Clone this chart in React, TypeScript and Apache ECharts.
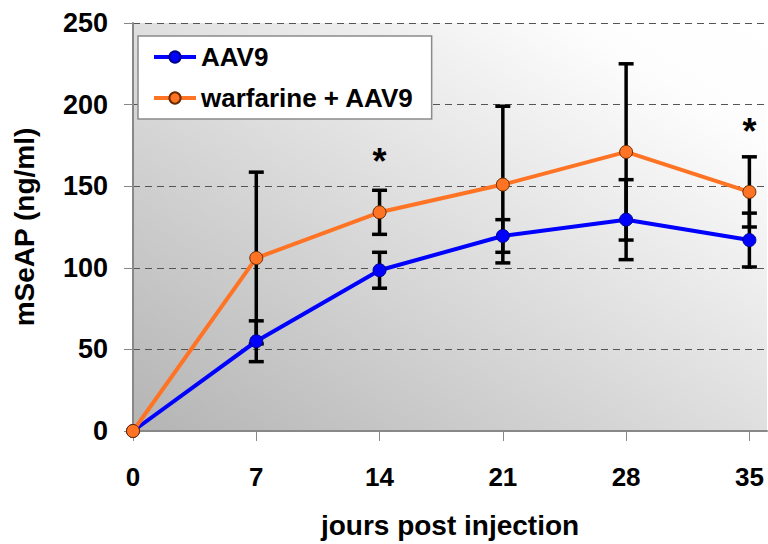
import React, { useEffect, useRef } from "react";
import * as echarts from "echarts";

const days = [0, 7, 14, 21, 28, 35];
const aav9Mean = [0, 55, 98.5, 119.5, 129.5, 117];
const aav9Err = [0, 12.5, 11, 10, 24.5, 16.5];
const warfMean = [0, 106, 134, 151, 171, 146.5];
const warfErr = [0, 52.6, 13.5, 48, 54, 21.5];
const starDays = [14, 35];
const starValues = [165, 183.5];
const xTicks = [0, 7, 14, 21, 28, 35];
const seriesNames = ["AAV9", "warfarine + AAV9"];

const FONT = "'Liberation Sans', Arial, sans-serif";

export default function App() {
  const ref = useRef<HTMLDivElement>(null);
  useEffect(() => {
    if (!ref.current) return;
    const chart = echarts.init(ref.current, null, { renderer: "svg" });
    const pts = (m: number[]) => days.map((d, i) => [d, m[i]]);
    const errData = (m: number[], e: number[]) =>
      days.map((d, i) => [d, m[i], e[i]]).filter((r) => r[2] > 0);
    const errSeries = (m: number[], e: number[]) => ({
      type: "custom",
      z: 1,
      silent: true,
      data: errData(m, e),
      renderItem: (_p: any, api: any) => {
        const x = api.value(0);
        const mean = api.value(1);
        const err = api.value(2);
        const top = api.coord([x, mean + err]);
        const bot = api.coord([x, mean - err]);
        const hw = 7.5;
        const style = { stroke: "#000", lineWidth: 3.5 };
        return {
          type: "group",
          children: [
            { type: "line", shape: { x1: top[0], y1: top[1], x2: bot[0], y2: bot[1] }, style },
            { type: "line", shape: { x1: top[0] - hw, y1: top[1], x2: top[0] + hw, y2: top[1] }, style },
            { type: "line", shape: { x1: bot[0] - hw, y1: bot[1], x2: bot[0] + hw, y2: bot[1] }, style },
          ],
        };
      },
    });
    chart.setOption({
      animation: false,
      grid: {
        left: 133,
        top: 23,
        right: 1,
        bottom: 111,
        show: true,
        borderWidth: 0,
        backgroundColor: new echarts.graphic.LinearGradient(0, 1, 1, 0, [
          { offset: 0, color: "#b4b4b4" },
          { offset: 0.85, color: "#fdfdfd" },
          { offset: 1, color: "#ffffff" },
        ]),
      },
      legend: {
        orient: "vertical",
        left: 138,
        top: 36,
        data: seriesNames,
        backgroundColor: "#ffffff",
        borderColor: "#8a8a8a",
        borderWidth: 1.5,
        borderRadius: 0,
        padding: [8, 18, 8, 14],
        itemWidth: 42,
        itemHeight: 14,
        itemGap: 15,
        lineStyle: { width: 4 },
        textStyle: { fontFamily: FONT, fontWeight: "bold", fontSize: 26, color: "#000" },
      },
      xAxis: {
        type: "value",
        min: 0,
        max: 36,
        name: "jours post injection",
        nameLocation: "middle",
        nameGap: 80,
        nameTextStyle: { fontFamily: FONT, fontWeight: "bold", fontSize: 28, color: "#000" },
        axisLine: { show: true, onZero: false, lineStyle: { color: "#888", width: 2 } },
        axisTick: { show: true, length: 10, customValues: xTicks, lineStyle: { color: "#888", width: 1 } },
        axisLabel: {
          customValues: xTicks,
          margin: 33,
          fontFamily: FONT,
          fontWeight: "bold",
          fontSize: 26,
          color: "#000",
        },
        splitLine: { show: false },
      },
      yAxis: {
        type: "value",
        min: 0,
        max: 250,
        interval: 50,
        name: "mSeAP (ng/ml)",
        nameLocation: "middle",
        nameGap: 95,
        nameTextStyle: { fontFamily: FONT, fontWeight: "bold", fontSize: 28, color: "#000" },
        axisLine: { show: true, lineStyle: { color: "#888", width: 2 } },
        axisTick: { show: true, length: 9, lineStyle: { color: "#888", width: 1 } },
        axisLabel: { margin: 25, fontFamily: FONT, fontWeight: "bold", fontSize: 27, color: "#000" },
        splitLine: { show: true, lineStyle: { color: "#555", width: 1, type: [7, 5] } },
      },
      series: [
        errSeries(aav9Mean, aav9Err),
        errSeries(warfMean, warfErr),
        {
          name: seriesNames[0],
          type: "line",
          z: 3,
          data: pts(aav9Mean),
          symbol: "circle",
          symbolSize: 13,
          lineStyle: { color: "#0000ff", width: 4 },
          itemStyle: { color: "#0000ff", borderColor: "#00008a", borderWidth: 1 },
        },
        {
          name: seriesNames[1],
          type: "line",
          z: 4,
          data: pts(warfMean),
          symbol: "circle",
          symbolSize: 13,
          lineStyle: { color: "#ff7424", width: 4 },
          itemStyle: { color: "#ff7424", borderColor: "#6a2a00", borderWidth: 1 },
        },
        {
          type: "custom",
          z: 5,
          silent: true,
          data: starDays.map((d, i) => [d, starValues[i]]),
          renderItem: (_p: any, api: any) => {
            const c = api.coord([api.value(0), api.value(1)]);
            return {
              type: "text",
              x: c[0],
              y: c[1],
              style: {
                text: "*",
                fill: "#000",
                fontSize: 36,
                fontWeight: "bold",
                fontFamily: FONT,
                align: "center",
                verticalAlign: "middle",
              },
            };
          },
        },
      ],
    });
    return () => chart.dispose();
  }, []);
  return <div ref={ref} style={{ width: 768, height: 544, position: "absolute", left: 0, top: 0 }} />;
}
